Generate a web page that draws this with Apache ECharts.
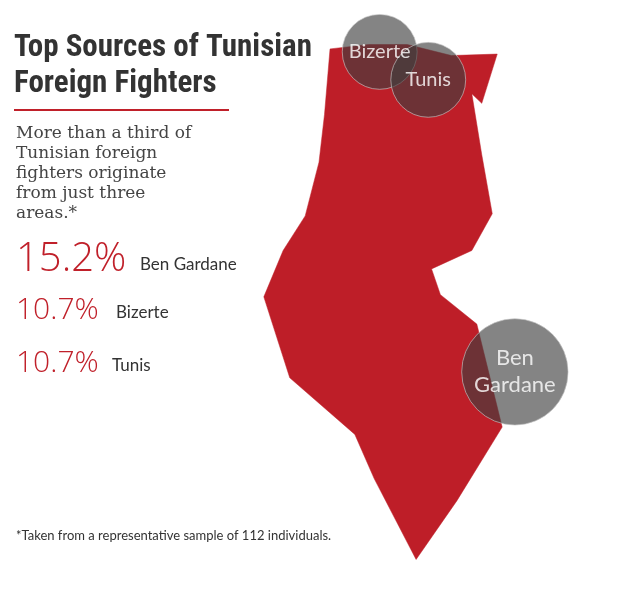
<!DOCTYPE html>
<html>
<head>
<meta charset="utf-8">
<script src="https://cdn.jsdelivr.net/npm/echarts@6/dist/echarts.min.js"></script>
<style>
html, body { margin: 0; padding: 0; background: #fff; }
#main { width: 630px; height: 595px; }
</style>
</head>
<body>
<div id="main"></div>
<script>
// data
var places = ['Ben Gardane', 'Bizerte', 'Tunis'];
var shares = [15.2, 10.7, 10.7];
var bubbleLabels = ['Ben\nGardane', 'Bizerte', 'Tunis'];
// where each bubble sits on the map (lon, lat)
var placeCoords = [[11.95, 32.75], [9.5, 37.1], [10.38, 36.72]];

// stylised outline of Tunisia
var outline = [
    [8.6, 37.14], [9.3, 37.2], [10.0, 37.2], [10.8, 37.05], [11.63, 37.07], [11.35, 36.4],
    [11.17, 36.53], [11.35, 35.7], [11.54, 34.9], [11.17, 34.4], [10.44, 34.15], [10.6, 33.8],
    [11.26, 33.4], [11.72, 32.0], [10.9, 31.0], [10.16, 30.2], [9.4, 31.3], [9.05, 31.9],
    [7.87, 32.67], [7.4, 33.77], [7.75, 34.4], [8.15, 34.87], [8.4, 35.6], [8.5, 36.25],
    [8.6, 37.14]
];

echarts.registerMap('tunisia', {
    type: 'FeatureCollection',
    features: [{
        type: 'Feature',
        properties: { name: 'Tunisia' },
        geometry: { type: 'Polygon', coordinates: [outline] }
    }]
});

var myChart = echarts.init(document.getElementById('main'));

var graphics = [
    { type: 'text', left: 14, top: 30, style: { text: 'Top Sources of Tunisian\nForeign Fighters', fill: '#333', font: 'bold 31px "Liberation Sans Narrow", "Roboto Condensed", sans-serif', lineHeight: 36 } },
    { type: 'rect', shape: { x: 14, y: 109, width: 215, height: 2 }, style: { fill: '#c0202a' } },
    { type: 'text', left: 16, top: 124, style: { text: 'More than a third of\nTunisian foreign\nfighters originate\nfrom just three\nareas.*', fill: '#444', font: '17px "DejaVu Serif", serif', lineHeight: 20 } },
    { type: 'text', left: 16, top: 529, style: { text: '*Taken from a representative sample of 112 individuals.', fill: '#333', font: '13px Lato, sans-serif' } }
];

// stat rows
var rowTop = [240, 295, 348];
var pctSize = [40, 30, 30];
var nameLeft = [140, 116, 112];
for (var i = 0; i < places.length; i++) {
    graphics.push({ type: 'text', left: 16, top: rowTop[i], style: { text: shares[i].toFixed(1) + '%', fill: '#c0202a', font: '300 ' + pctSize[i] + 'px "Open Sans", sans-serif' } });
    graphics.push({ type: 'text', left: nameLeft[i], top: rowTop[i] + (i === 0 ? 16 : 9), style: { text: places[i], fill: '#333', font: '17px Lato, sans-serif' } });
}

var bubbles = [];
for (var j = 0; j < places.length; j++) {
    bubbles.push({
        name: places[j],
        value: placeCoords[j].concat(shares[j]),
        label: { formatter: bubbleLabels[j], fontSize: j === 0 ? 22 : 20, lineHeight: 27 }
    });
}

var option = {
    animation: false,
    geo: {
        map: 'tunisia',
        roam: false,
        layoutCenter: [383, 302],
        layoutSize: 515,
        silent: true,
        itemStyle: { areaColor: '#be1e28', borderColor: '#be1e28' },
        label: { show: false }
    },
    graphic: graphics,
    series: [{
        type: 'scatter',
        coordinateSystem: 'geo',
        symbolSize: function (val) { return val[2] * 7; },
        itemStyle: { color: 'rgba(62,62,62,0.8)', borderColor: 'rgba(200,200,200,0.8)', borderWidth: 1 },
        label: {
            show: true,
            position: 'inside',
            color: '#fff',
            fontFamily: 'Lato, sans-serif'
        },
        data: bubbles
    }]
};

myChart.setOption(option);
</script>
</body>
</html>
